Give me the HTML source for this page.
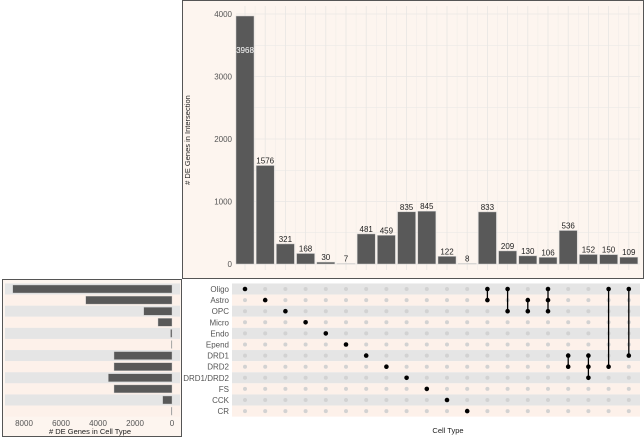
<!DOCTYPE html>
<html><head><meta charset="utf-8"><style>
body{margin:0;background:#fff;}
svg{display:block;font-family:"Liberation Sans",sans-serif;}
</style></head><body>
<svg id="c" width="644" height="439" xmlns="http://www.w3.org/2000/svg"></svg>
<script>
const intersectionCounts=[3968,1576,321,168,30,7,481,459,835,845,122,8,833,209,130,106,536,152,150,109];
const setNames=["Oligo","Astro","OPC","Micro","Endo","Epend","DRD1","DRD2","DRD1/DRD2","FS","CCK","CR"];
const setSizes=[8610,4665,1530,757,80,35,3135,3135,3440,3135,505,40];
const memberships=[[0],[1],[2],[3],[4],[5],[6],[7],[8],[9],[10],[11],[0,1],[0,2],[1,2],[0,1,2],[6,7],[6,7,8],[0,7],[0,6]];
const yTicks=[0,1000,2000,3000,4000];
const xTicksLeft=[8000,6000,4000,2000,0];

const NS="http://www.w3.org/2000/svg";
const svg=document.getElementById('c');
function el(t,a,p){const e=document.createElementNS(NS,t);for(const k in a)e.setAttribute(k,a[k]);(p||svg).appendChild(e);return e;}
const colX=i=>245+i*20.2;
const yTop=v=>264-v*250/4000;
const rowY=j=>289+j*11.1;
const xLeft=v=>172-v*0.0185;

// top panel
let bg=el('rect',{x:182.5,y:0.5,width:461,height:278,fill:'#fdf5ef',stroke:'#555','stroke-width':1});

for(let v=0;v<=4000;v+=500){el('line',{x1:236,x2:640,y1:yTop(v),y2:yTop(v),stroke:'#e8e6e4','stroke-width':v%1000?0.5:0.8});}
for(let i=0;i<intersectionCounts.length;i++){el('line',{x1:colX(i),x2:colX(i),y1:6,y2:270,stroke:'#e8e6e4','stroke-width':0.8});
 el('line',{x1:colX(i)+10.1,x2:colX(i)+10.1,y1:6,y2:270,stroke:'#eeebe8','stroke-width':0.5});}
yTicks.forEach(v=>{const t=el('text',{x:232,y:yTop(v)+3,'font-size':8,fill:'#555','text-anchor':'end'});t.textContent=v;
 });
let yt=el('text',{x:190,y:140,'font-size':7.5,fill:'#222','text-anchor':'middle',transform:'rotate(-90 190 140)'});yt.textContent='# DE Genes in Intersection';

intersectionCounts.forEach((v,i)=>{
 const r=el('rect',{x:colX(i)-9,y:yTop(v),width:18,height:264-yTop(v),fill:'#595959',stroke:'#ccc','stroke-width':0.5});
 
 const inside=yTop(v)<30;
 const t=el('text',{x:colX(i),y:inside?yTop(v)+37:yTop(v)-2,'font-size':8,fill:inside?'#fff':'#222','text-anchor':'middle'});t.textContent=v;
 
});

// left panel
let lb=el('rect',{x:2.5,y:279.5,width:179,height:157,fill:'#fdf5ef',stroke:'#555','stroke-width':1});

setNames.forEach((n,j)=>{
 el('rect',{x:5,y:rowY(j)-5.55,width:175,height:11.1,fill:j%2?'#fdf1ea':'#e5e5e5'});
 el('rect',{x:232,y:rowY(j)-5.55,width:408,height:11.1,fill:j%2?'#fdf1ea':'#e5e5e5'});
 const b=el('rect',{x:xLeft(setSizes[j]),y:rowY(j)-4,width:172-xLeft(setSizes[j]),height:8,fill:'#595959',stroke:'#ccc','stroke-width':0.4});
 
 const t=el('text',{x:229,y:rowY(j)+3,'font-size':8,fill:'#555','text-anchor':'end'});t.textContent=n;
 
});
xTicksLeft.forEach(v=>{const t=el('text',{x:xLeft(v),y:426,'font-size':8,fill:'#555','text-anchor':'middle'});t.textContent=v;
 });
let lt=el('text',{x:90,y:434,'font-size':7.5,fill:'#222','text-anchor':'middle'});lt.textContent='# DE Genes in Cell Type';


// matrix
memberships.forEach((m,i)=>{
 setNames.forEach((n,j)=>{if(!m.includes(j))el('circle',{cx:colX(i),cy:rowY(j),r:2,fill:'#d2d2d2'});});
 if(m.length>1){const l=el('line',{x1:colX(i),x2:colX(i),y1:rowY(Math.min(...m)),y2:rowY(Math.max(...m)),stroke:'#000','stroke-width':1.3});
  }
 m.forEach(j=>{const c=el('circle',{cx:colX(i),cy:rowY(j),r:2.3,fill:'#000'});
  });
});
let xt=el('text',{x:448,y:433,'font-size':7.5,fill:'#222','text-anchor':'middle'});xt.textContent='Cell Type';

</script>
</body></html>
